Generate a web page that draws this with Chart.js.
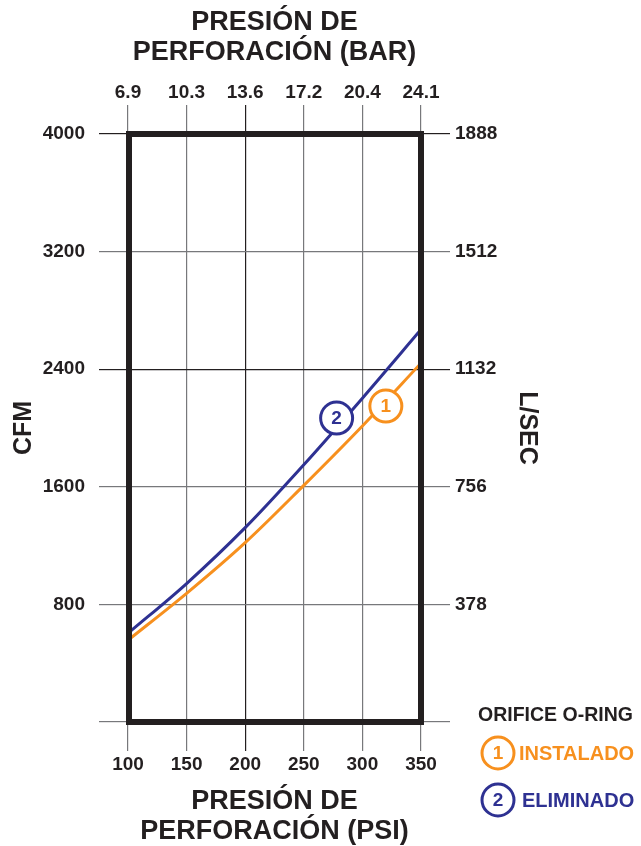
<!DOCTYPE html>
<html>
<head>
<meta charset="utf-8">
<script src="https://cdn.jsdelivr.net/npm/chart.js@4.4.0/dist/chart.umd.min.js"></script>
<style>
  html, body { margin: 0; padding: 0; background: #fff; }
  #wrap { width: 641px; height: 846px; }
</style>
</head>
<body>
<div id="wrap"><canvas id="chart" width="641" height="846"></canvas></div>
<script>
// datos
var psi = [100, 150, 200, 250, 300, 350];
var barLabels = ['6.9', '10.3', '13.6', '17.2', '20.4', '24.1'];
var cfmTicks = [0, 800, 1600, 2400, 3200, 4000];
var lsecLabels = ['', '378', '756', '1132', '1512', '1888'];
var instalado = [556, 875, 1220, 1610, 2014, 2441];
var eliminado = [603, 942, 1322, 1750, 2203, 2670];
// posición de los círculos numerados sobre las curvas [psi, cfm]
var markInstalado = [320, 2149];
var markEliminado = [278, 2068];

var ORANGE = '#f7901e';
var BLUE = '#2e3192';
var INK = '#231f20';
var GRAY = '#77787b';
var SANS = "'Liberation Sans', Arial, Helvetica, sans-serif";

function gridColor(darkValues) {
    return function(ctx) {
        if (ctx.tick && darkValues.indexOf(ctx.tick.value) >= 0) return INK;
        return GRAY;
    };
}

function circleLabel(ctx, x, y, num, color) {
    ctx.beginPath();
    ctx.arc(x, y, 16, 0, Math.PI * 2);
    ctx.fillStyle = '#fff';
    ctx.fill();
    ctx.lineWidth = 3;
    ctx.strokeStyle = color;
    ctx.stroke();
    ctx.fillStyle = color;
    ctx.font = 'bold 19px ' + SANS;
    ctx.textAlign = 'center';
    ctx.textBaseline = 'middle';
    ctx.fillText(num, x, y + 1);
}

var marksPlugin = {
    id: 'marks',
    afterDatasetsDraw: function(chart) {
        var ctx = chart.ctx, xs = chart.scales.x, ys = chart.scales.y;
        ctx.save();
        circleLabel(ctx, xs.getPixelForValue(markEliminado[0]), ys.getPixelForValue(markEliminado[1]), '2', BLUE);
        circleLabel(ctx, xs.getPixelForValue(markInstalado[0]), ys.getPixelForValue(markInstalado[1]), '1', ORANGE);
        // marco grueso del área
        var a = chart.chartArea;
        ctx.lineWidth = 6;
        ctx.strokeStyle = INK;
        ctx.strokeRect(a.left + 1, a.top, a.right - a.left - 1, a.bottom - a.top);
        ctx.restore();
    }
};

var legendPlugin = {
    id: 'orificeLegend',
    afterDraw: function(chart) {
        var ctx = chart.ctx;
        ctx.save();
        ctx.textBaseline = 'middle';
        ctx.textAlign = 'left';
        ctx.fillStyle = INK;
        ctx.font = 'bold 19.5px ' + SANS;
        ctx.fillText('ORIFICE O-RING', 478, 716);
        circleLabel(ctx, 498, 753, '1', ORANGE);
        ctx.textAlign = 'left';
        ctx.fillStyle = ORANGE;
        ctx.font = 'bold 20px ' + SANS;
        ctx.fillText('INSTALADO', 519, 754);
        circleLabel(ctx, 498, 800, '2', BLUE);
        ctx.textAlign = 'left';
        ctx.fillStyle = BLUE;
        ctx.font = 'bold 20px ' + SANS;
        ctx.fillText('ELIMINADO', 522, 801);
        ctx.restore();
    }
};

var tickFont = { family: SANS, size: 19, weight: 'bold' };
var titleFont = { family: SANS, size: 27, weight: 'bold', lineHeight: 1.1 };

var ctx = document.getElementById('chart').getContext('2d');
var chart = new Chart(ctx, {
    type: 'line',
    data: {
        datasets: [{
            label: 'ELIMINADO',
            data: psi.map(function(p, i) { return { x: p, y: eliminado[i] }; }),
            borderColor: BLUE,
            borderWidth: 3,
            pointRadius: 0,
            tension: 0.4,
            cubicInterpolationMode: 'monotone'
        }, {
            label: 'INSTALADO',
            data: psi.map(function(p, i) { return { x: p, y: instalado[i] }; }),
            borderColor: ORANGE,
            borderWidth: 3,
            pointRadius: 0,
            tension: 0.4,
            cubicInterpolationMode: 'monotone'
        }]
    },
    options: {
        responsive: false,
        animation: false,
        layout: { padding: { right: 95 } },
        plugins: {
            legend: { display: false },
            tooltip: { enabled: false }
        },
        scales: {
            x: {
                type: 'linear',
                position: 'bottom',
                min: 100,
                max: 350,
                afterBuildTicks: function(s) { s.ticks = psi.map(function(v) { return { value: v }; }); },
                afterFit: function(s) { s.height = 124; },
                grid: { color: gridColor([200]), lineWidth: 1.2, tickLength: 29 },
                border: { display: false },
                ticks: { color: INK, font: tickFont, padding: 2, maxRotation: 0, autoSkip: false },
                title: {
                    display: true,
                    text: ['PRESIÓN DE', 'PERFORACIÓN (PSI)'],
                    color: INK,
                    font: titleFont,
                    padding: { top: 0, bottom: 0 }
                }
            },
            x2: {
                type: 'linear',
                position: 'top',
                min: 100,
                max: 350,
                afterBuildTicks: function(s) { s.ticks = psi.map(function(v) { return { value: v }; }); },
                afterFit: function(s) { s.height = 134; },
                grid: { color: gridColor([200]), lineWidth: 1.2, tickLength: 29, drawOnChartArea: false },
                border: { display: false },
                ticks: {
                    color: INK,
                    font: tickFont,
                    padding: 1,
                    maxRotation: 0,
                    autoSkip: false,
                    callback: function(v, i) { return barLabels[i]; }
                },
                title: {
                    display: true,
                    text: ['PRESIÓN DE', 'PERFORACIÓN (BAR)'],
                    color: INK,
                    font: titleFont,
                    padding: { top: 8, bottom: 0 }
                }
            },
            y: {
                position: 'left',
                min: 0,
                max: 4000,
                afterBuildTicks: function(s) { s.ticks = cfmTicks.map(function(v) { return { value: v }; }); },
                afterFit: function(s) { s.width = 128; },
                grid: { color: gridColor([4000, 2400]), lineWidth: 1.2, tickLength: 29 },
                border: { display: false },
                ticks: {
                    color: INK,
                    font: tickFont,
                    padding: 14,
                    callback: function(v) { return v === 0 ? '' : String(v); }
                },
                title: {
                    display: true,
                    text: 'CFM',
                    color: INK,
                    font: { family: SANS, size: 25, weight: 'bold' },
                    padding: { top: 9, bottom: 0 }
                }
            },
            y2: {
                position: 'right',
                min: 0,
                max: 4000,
                afterBuildTicks: function(s) { s.ticks = cfmTicks.map(function(v) { return { value: v }; }); },
                afterFit: function(s) { s.width = 125; },
                grid: { color: gridColor([4000, 2400]), lineWidth: 1.2, tickLength: 29, drawOnChartArea: false },
                border: { display: false },
                ticks: {
                    color: INK,
                    font: tickFont,
                    padding: 5,
                    callback: function(v, i) { return lsecLabels[i]; }
                },
                title: {
                    display: true,
                    text: 'L/SEC',
                    color: INK,
                    font: { family: SANS, size: 25, weight: 'bold' },
                    padding: { top: 4, bottom: 0 }
                }
            }
        }
    },
    plugins: [marksPlugin, legendPlugin]
});
</script>
</body>
</html>
